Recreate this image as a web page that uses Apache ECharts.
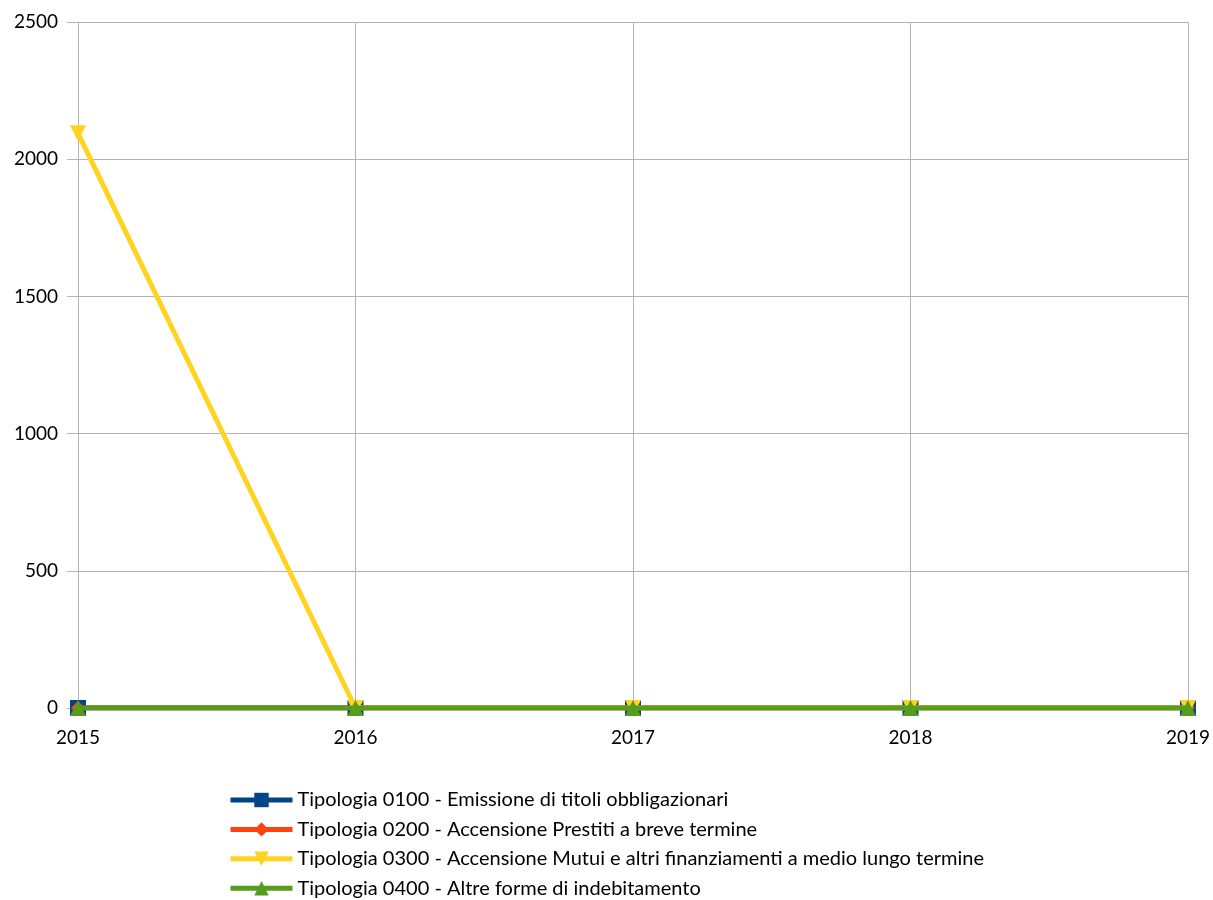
<!DOCTYPE html>
<html><head><meta charset="utf-8">
<script src="https://cdn.jsdelivr.net/npm/echarts@6/dist/echarts.min.js"></script>
<style>html,body{margin:0;padding:0;background:#fff}#c{width:1213px;height:900px}</style>
</head><body><div id="c"></div>
<script>
const years = ['2015','2016','2017','2018','2019'];
const names = [
 'Tipologia 0100 - Emissione di titoli obbligazionari',
 'Tipologia 0200 - Accensione Prestiti a breve termine',
 'Tipologia 0300 - Accensione Mutui e altri finanziamenti a medio lungo termine',
 'Tipologia 0400 - Altre forme di indebitamento'
];
const s0100 = [0,0,0,0,0];
const s0200 = [0,0,0,0,0];
const s0300 = [2095,0,0,0,0];
const s0400 = [0,0,0,0,0];
const colors = ['#004586','#ff420e','#ffd320','#579d1c'];
const symbols = ['rect','diamond','path://M0,0 L10,0 L5,10 Z','triangle'];
const values = [s0100,s0200,s0300,s0400];
const font = 'Lato, "Open Sans", sans-serif';
const chart = echarts.init(document.getElementById('c'));
chart.setOption({
  animation:false,
  grid:{left:78,right:24,top:22,bottom:192},
  legend:{orient:'vertical',left:228,top:790,padding:0,width:1000,height:120,itemWidth:62,itemHeight:18,itemGap:9.4,
    lineStyle:{width:5},
    textStyle:{fontFamily:font,fontSize:20,color:'#000'},
    data:names},
  xAxis:{type:'category',data:years,boundaryGap:false,
    axisLine:{show:true,lineStyle:{color:'#b3b3b3'}},
    axisTick:{show:false},
    splitLine:{show:true,lineStyle:{color:'#b3b3b3'}},
    axisLabel:{fontFamily:font,fontSize:19,color:'#000',margin:20}},
  yAxis:{type:'value',min:0,max:2500,interval:500,
    axisLine:{show:true,lineStyle:{color:'#b3b3b3'}},
    axisTick:{show:true,length:11,lineStyle:{color:'#b3b3b3'}},
    splitLine:{lineStyle:{color:'#b3b3b3'}},
    axisLabel:{fontFamily:font,fontSize:19,color:'#000',margin:20,formatter:v=>String(v)}},
  series: values.map((v,i)=>({
    name:names[i],type:'line',data:v,
    symbol:symbols[i],symbolSize:i===1?14:16,showAllSymbol:true,
    lineStyle:{width:5,color:colors[i]},
    itemStyle:{color:colors[i]},
    z:2+i
  }))
});
</script></body></html>
